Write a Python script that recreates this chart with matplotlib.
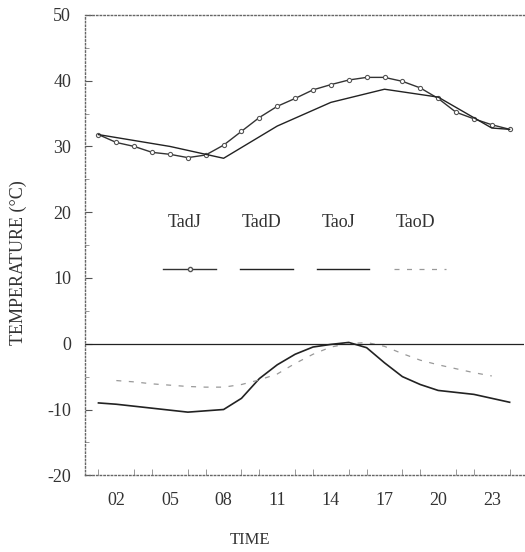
import matplotlib.pyplot as plt
from matplotlib.ticker import MultipleLocator

plt.rcParams['font.family'] = ['Liberation Serif', 'DejaVu Serif']
plt.rcParams['axes.unicode_minus'] = False

hours = list(range(1, 25))
tadj = [31.8, 30.6, 30.0, 29.1, 28.8, 28.3, 28.7, 30.2, 32.3, 34.4, 36.1, 37.3,
        38.6, 39.4, 40.1, 40.5, 40.5, 39.9, 38.9, 37.3, 35.2, 34.2, 33.3, 32.6]
tadd_hours = [1, 5, 8, 11, 14, 17, 20, 23, 24]
tadd = [31.8, 30.0, 28.2, 33.1, 36.7, 38.7, 37.5, 32.8, 32.6]
taoj = [-9.0, -9.2, -9.5, -9.8, -10.1, -10.4, -10.2, -10.0, -8.3, -5.3, -3.2, -1.6,
        -0.5, -0.1, 0.2, -0.6, -2.9, -5.0, -6.2, -7.1, -7.4, -7.7, -8.3, -8.9]
taod_hours = list(range(2, 24))
taod = [-5.6, -5.8, -6.1, -6.3, -6.5, -6.6, -6.6, -6.2, -5.5, -4.6, -3.0, -1.6,
        -0.5, 0.0, 0.2, -0.4, -1.5, -2.5, -3.2, -3.8, -4.4, -4.9]

xticks = [2, 5, 8, 11, 14, 17, 20, 23]
xticklabels = ['02', '05', '08', '11', '14', '17', '20', '23']
legend_labels = ['TadJ', 'TadD', 'TaoJ', 'TaoD']

fig = plt.figure(figsize=(5.25, 5.52), dpi=100)
ax = fig.add_axes([0.162, 0.139, 0.836, 0.834])

ax.plot(hours, tadj, color='#333333', lw=1.0, marker='o', ms=3,
        mfc='white', mec='#555555', mew=0.8)
ax.plot(tadd_hours, tadd, color='#222222', lw=1.0)
ax.plot(hours, taoj, color='#222222', lw=1.2)
ax.plot(taod_hours, taod, color='#999999', lw=0.9, ls=(0, (4, 6)))
ax.axhline(0, color='#222222', lw=0.9)

# legend drawn as text over line samples
styles = [dict(color='#333333', lw=1.0, marker='o', ms=3, mfc='white',
               mec='#555555', markevery=[1]),
          dict(color='#222222', lw=1.0),
          dict(color='#222222', lw=1.0),
          dict(color='#999999', lw=0.9, ls=(0, (4, 6)))]
for i, (lab, st) in enumerate(zip(legend_labels, styles)):
    x0 = 0.178 + i * 0.175
    ax.text(x0 + 0.05, 0.55, lab, transform=ax.transAxes, ha='center',
            va='center', fontsize=13, color='#333333')
    ax.plot([x0, x0 + 0.06, x0 + 0.12], [0.448, 0.448, 0.448],
            transform=ax.transAxes, **st)

ax.set_xlim(0.25, 24.8)
ax.set_ylim(-20, 50)
ax.set_xticks(xticks)
ax.set_xticklabels(xticklabels)
ax.xaxis.set_minor_locator(MultipleLocator(1))
ax.yaxis.set_major_locator(MultipleLocator(10))
ax.yaxis.set_minor_locator(MultipleLocator(5))
ax.tick_params(axis='x', which='major', direction='in', length=0, pad=12,
               labelsize=13, labelcolor='#333333')
ax.tick_params(axis='x', which='minor', direction='in', length=4,
               color='#888888', width=0.6)
ax.tick_params(axis='y', which='major', direction='in', length=5,
               labelsize=13, labelcolor='#333333', pad=10, color='#555555')
ax.tick_params(axis='y', which='minor', direction='in', length=3,
               color='#888888', width=0.6)

for side in ['left', 'top', 'bottom']:
    ax.spines[side].set_linestyle(':')
    ax.spines[side].set_color('#666666')
    ax.spines[side].set_linewidth(1.0)
ax.spines['right'].set_visible(False)

fig.text(0.034, 0.525, 'TEMPERATURE (°C)', rotation=90, ha='center',
         va='center', fontsize=13, color='#333333')
fig.text(0.476, 0.022, 'TIME', ha='center', va='center', fontsize=12,
         color='#333333')

fig.savefig('out.png', dpi=100)
